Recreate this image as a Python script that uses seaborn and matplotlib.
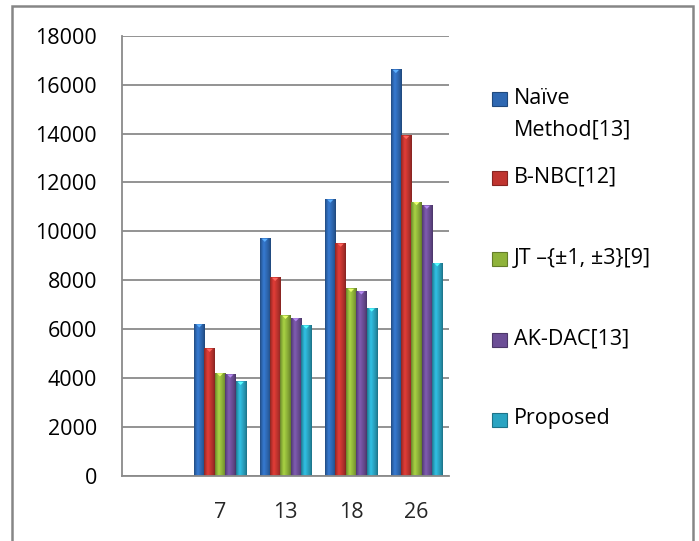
import numpy as np
import pandas as pd
import matplotlib
matplotlib.use("Agg")
import matplotlib.pyplot as plt
import seaborn as sns
from matplotlib.colors import to_rgb
from matplotlib.patches import Rectangle, Polygon

# ---- data -------------------------------------------------------------
categories = ["", "7", "13", "18", "26"]
methods = ["Naïve\nMethod[13]", "B-NBC[12]", "JT –{±1, ±3}[9]", "AK-DAC[13]", "Proposed"]
naive_method = [6200, 9700, 11300, 16600]
b_nbc = [5200, 8100, 9500, 13900]
jt_pm13 = [4200, 6550, 7650, 11200]
ak_dac = [4150, 6450, 7550, 11050]
proposed = [3850, 6150, 6850, 8700]
y_ticks = [0, 2000, 4000, 6000, 8000, 10000, 12000, 14000, 16000, 18000]

colors = ["#2E68B2", "#C0342F", "#8FB33A", "#6C4E96", "#2AA4C2"]

series = [naive_method, b_nbc, jt_pm13, ak_dac, proposed]
rows = []
for name, vals in zip(methods, series):
    for cat, v in zip(categories[1:], vals):
        rows.append({"n": cat, "method": name, "value": v})
df = pd.DataFrame(rows)

# ---- style ------------------------------------------------------------
sns.set_style("white")
plt.rcParams["font.family"] = ["Open Sans", "DejaVu Sans"]
GRAY = "#8A8A8A"
FS = 15.5

W, H = 699, 541
fig = plt.figure(figsize=(W / 100, H / 100), dpi=100)
ax = fig.add_axes([121.7 / W, 1 - 476 / H, (449.3 - 121.7) / W, (476 - 35.7) / H])

sns.barplot(data=df, x="n", y="value", hue="method", order=categories,
            hue_order=methods, palette=colors, width=0.79, saturation=1,
            linewidth=0, legend=False, ax=ax)

ax.set_xlim(-0.5, len(categories) - 0.5)
ax.set_ylim(0, 18000)

# cylinder-like shading on each bar
prof_t = np.array([0.0, 0.15, 0.35, 0.6, 0.85, 1.0])
prof_f = np.array([0.72, 0.95, 1.18, 1.02, 0.85, 0.68])
tt = np.linspace(0, 1, 64)
fac = np.interp(tt, prof_t, prof_f)
bars = [p for p in ax.patches if p.get_height() > 0]
for p in bars:
    x0, w, h = p.get_x(), p.get_width(), p.get_height()
    base = np.array(to_rgb(p.get_facecolor()))
    img = np.clip(base[None, None, :] * fac[None, :, None], 0, 1)
    ax.imshow(img, extent=[x0, x0 + w, 0, h], aspect="auto",
              interpolation="bilinear", zorder=p.get_zorder() + 0.1)
    light = np.clip(base * 1.45 + 0.1, 0, 1)
    cap = 130
    ax.add_patch(Polygon([(x0 + w * 0.2, h), (x0 + w * 0.8, h), (x0 + w / 2, h - cap)],
                         closed=True, facecolor=light, edgecolor="none",
                         zorder=p.get_zorder() + 0.2))
ax.set_xlim(-0.5, len(categories) - 0.5)
ax.set_ylim(0, 18000)

# ---- axes -------------------------------------------------------------
ax.set_yticks(y_ticks)
ax.set_yticklabels([str(v) for v in y_ticks], fontsize=FS)
ax.yaxis.grid(True, color=GRAY, linewidth=1.3)
ax.set_axisbelow(True)
ax.tick_params(axis="y", length=6.3, width=1.2, color=GRAY, pad=11.5, labelcolor="black")

ax.set_xticks(np.arange(-0.5, len(categories), 1.0))
ax.set_xticklabels([])
ax.set_xticks(np.arange(len(categories)), minor=True)
ax.set_xticklabels(categories, minor=True, fontsize=FS)
ax.tick_params(axis="x", which="major", length=6, width=1.2, color=GRAY, direction="out")
ax.tick_params(axis="x", which="minor", length=0, pad=19)
ax.set_xlabel("")
ax.set_ylabel("")

for s in ["top", "right"]:
    ax.spines[s].set_visible(False)
for s in ["left", "bottom"]:
    ax.spines[s].set_color(GRAY)
    ax.spines[s].set_linewidth(1.3)

# ---- legend -----------------------------------------------------------
marker_y = [99, 178, 259, 340, 419.5]
line_gap = 32
for name, col, my in zip(methods, colors, marker_y):
    c = np.array(to_rgb(col))
    fig.add_artist(Rectangle((492 / W, 1 - (my + 7) / H), 15 / W, 14 / H,
                             transform=fig.transFigure,
                             facecolor=c, edgecolor=np.clip(c * 0.7, 0, 1), linewidth=0.8))
    for j, line in enumerate(name.split("\n")):
        fig.text(514 / W, 1 - (my - 1 + j * line_gap) / H, line,
                 fontsize=FS, va="center", ha="left", color="black")

# ---- outer frame ------------------------------------------------------
fig.add_artist(Rectangle((12.3 / W, -0.05), (693 - 12.3) / W, 1.05 - 6 / H,
                         transform=fig.transFigure, fill=False,
                         edgecolor="#868686", linewidth=1.8))

fig.savefig("out.png", dpi=100)
